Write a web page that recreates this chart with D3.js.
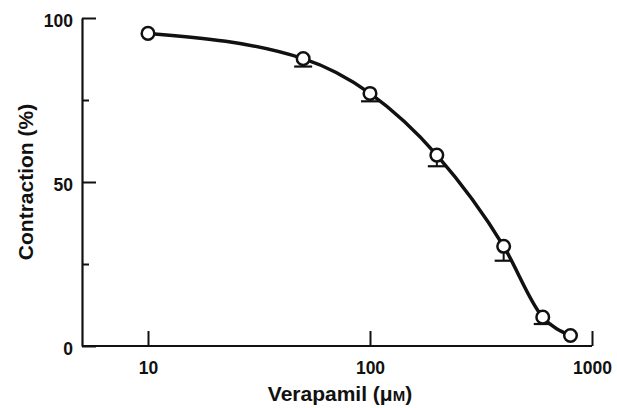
<!DOCTYPE html>
<html>
<head>
<meta charset="utf-8">
<script src="https://cdn.jsdelivr.net/npm/d3@7"></script>
<style>
  body { margin: 0; background: #fff; }
  text { font-family: 'Liberation Sans', Arial, sans-serif; font-weight: bold; fill: #111; }
</style>
</head>
<body>
<svg></svg>
<script>
const doses = [10, 50, 100, 200, 400, 600, 800];
const contraction = [95.3, 87.6, 77, 58.2, 30.4, 8.8, 3.2];
const errLow = [0, 2.4, 2.4, 3.4, 4.4, 2.1, 0];
const xTicks = [10, 100, 1000];
const yMajor = [0, 50, 100];
const yMinor = [25, 75];

const w = 617;
const h = 408;
const svg = d3.select('svg').attr('width', w).attr('height', h);

const axisX = 82;
const x = d3.scaleLog().domain([10, 1000]).range([148, 592]);
const y = d3.scaleLinear().domain([0, 100]).range([346, 18]);

const data = doses.map((d, i) => ({ dose: d, val: contraction[i], err: errLow[i] }));

// y axis, ticks pointing inward
const yAxis = svg.append('g').attr('transform', `translate(${axisX},0)`);
yAxis.call(d3.axisLeft(y).tickValues(yMajor).tickSize(-14).tickPadding(9).tickSizeOuter(0));
svg.append('g').attr('transform', `translate(${axisX},0)`)
  .call(d3.axisLeft(y).tickValues(yMinor).tickSize(-7).tickFormat('').tickSizeOuter(0))
  .select('.domain').remove();

// x axis
const xAxis = svg.append('g').attr('transform', `translate(0,${y(0)})`);
xAxis.call(d3.axisBottom(x).tickValues(xTicks).tickSize(-15).tickPadding(16).tickFormat(d3.format('d')));
xAxis.select('.domain').remove();
xAxis.append('line')
  .attr('x1', axisX).attr('x2', x(1000))
  .attr('stroke', '#111').attr('stroke-width', 2.2);

svg.selectAll('.domain').attr('stroke', '#111').attr('stroke-width', 2.2);
svg.selectAll('.tick line').attr('stroke', '#111').attr('stroke-width', 2);
svg.selectAll('.tick text').style('font-size', '17.5px').attr('fill', '#111');
yAxis.selectAll('.tick text').attr('dy', '0.5em');

// error bars (lower side only)
const eb = svg.append('g').selectAll('g')
  .data(data.filter((d) => d.err > 0))
  .enter().append('g');
eb.append('line')
  .attr('x1', (d) => x(d.dose)).attr('x2', (d) => x(d.dose))
  .attr('y1', (d) => y(d.val)).attr('y2', (d) => y(d.val - d.err))
  .attr('stroke', '#111').attr('stroke-width', 2);
eb.append('line')
  .attr('x1', (d) => x(d.dose) - 9).attr('x2', (d) => x(d.dose) + 9)
  .attr('y1', (d) => y(d.val - d.err)).attr('y2', (d) => y(d.val - d.err))
  .attr('stroke', '#111').attr('stroke-width', 2.2);

// fitted curve
const line = d3.line()
  .x((d) => x(d.dose))
  .y((d) => y(d.val))
  .curve(d3.curveMonotoneX);
svg.append('path')
  .datum(data)
  .attr('d', line)
  .attr('fill', 'none')
  .attr('stroke', '#111')
  .attr('stroke-width', 3.5);

svg.selectAll('circle')
  .data(data)
  .enter()
  .append('circle')
  .attr('cx', (d) => x(d.dose))
  .attr('cy', (d) => y(d.val))
  .attr('r', 6.3)
  .attr('fill', '#fff')
  .attr('stroke', '#111')
  .attr('stroke-width', 2.5);

// axis titles
const xt = svg.append('text')
  .attr('x', 340).attr('y', 401)
  .attr('text-anchor', 'middle')
  .style('font-size', '21px')
  .text('Verapamil (μ');
xt.append('tspan').style('font-size', '15px').text('M');
xt.append('tspan').text(')');

svg.append('text')
  .attr('transform', `translate(33,${y(50)}) rotate(-90)`)
  .attr('text-anchor', 'middle')
  .style('font-size', '21px')
  .text('Contraction (%)');
</script>
</body>
</html>
